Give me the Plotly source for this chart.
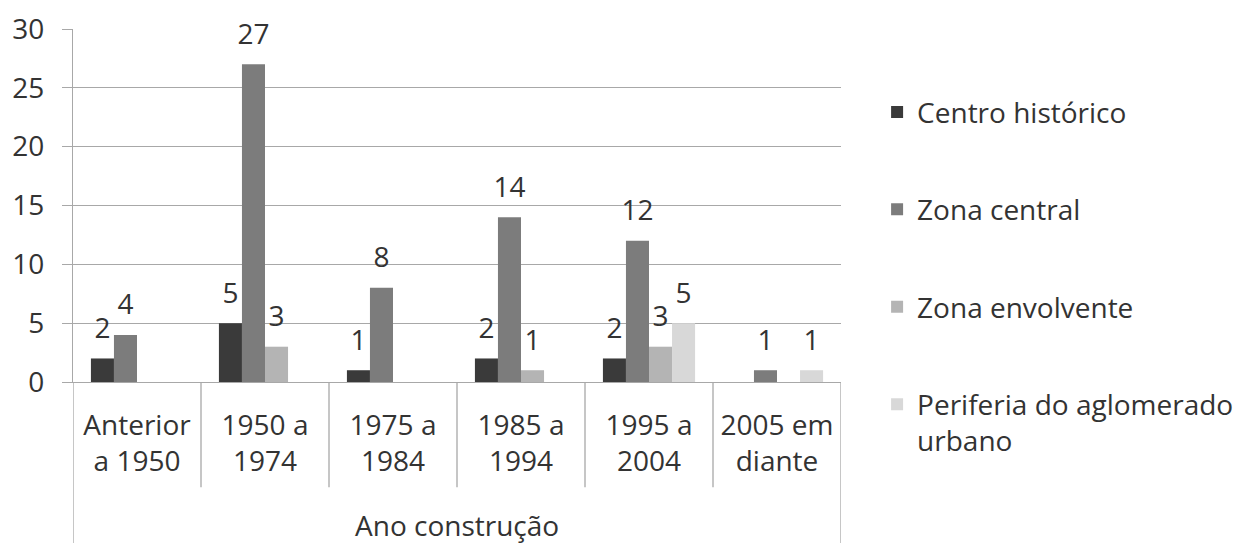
import plotly.graph_objects as go

categories = ["Anterior<br>a 1950", "1950 a<br>1974", "1975 a<br>1984", "1985 a<br>1994", "1995 a<br>2004", "2005 em<br>diante"]
series_names = ["Centro histórico", "Zona central", "Zona envolvente", "Periferia do aglomerado<br>urbano"]
centro_historico = [2, 5, 1, 2, 2, 0]
zona_central = [4, 27, 8, 14, 12, 1]
zona_envolvente = [0, 3, 0, 1, 3, 0]
periferia = [0, 0, 0, 0, 5, 1]
y_ticks = [0, 5, 10, 15, 20, 25, 30]
x_title = "Ano construção"

series_values = [centro_historico, zona_central, zona_envolvente, periferia]
colors = ["#3a3a3a", "#7c7c7c", "#b4b4b4", "#d8d8d8"]
FONT = "Open Sans"
FS = 28
txt_color = "#333333"
grid = "#a8a8a8"
GAP = 0.28

fig = go.Figure()
for name, vals, col in zip(series_names, series_values, colors):
    fig.add_trace(go.Bar(x=categories, y=vals, name=name, marker_color=col,
                         marker_line_width=0, legendgroup=name))
for name, vals in zip(series_names, series_values):
    fig.add_trace(go.Scatter(
        x=categories, y=[v if v else None for v in vals],
        text=[str(v) if v else "" for v in vals],
        mode="markers+text", textposition="top center",
        marker=dict(size=20, opacity=0), textfont=dict(family=FONT, size=FS, color=txt_color),
        showlegend=False, hoverinfo="skip", cliponaxis=False))

n = len(categories)
shapes = []
for i in range(n + 1):
    outer = i in (0, n)
    shapes.append(dict(type="line", xref="x", yref="paper", x0=i - 0.5, x1=i - 0.5,
                       y0=0, y1=-0.47 if outer else -0.298,
                       line=dict(color=grid, width=1.3)))

fig.update_layout(
    width=1234, height=535,
    margin=dict(l=65, r=401, t=21, b=161, autoexpand=False),
    paper_bgcolor="white", plot_bgcolor="white",
    barmode="group", bargap=GAP, bargroupgap=0,
    scattermode="group", scattergap=GAP,
    font=dict(family=FONT, size=FS, color=txt_color),
    shapes=shapes,
    showlegend=True,
    legend=dict(x=1.047, xanchor="left", y=0.835, yanchor="top", maxheight=480,
                valign="top",
                font=dict(family=FONT, size=FS, color=txt_color),
                tracegroupgap=58, bgcolor="rgba(0,0,0,0)"),
    annotations=[dict(text=x_title, xref="paper", yref="paper", x=0.5, y=-0.405,
                      showarrow=False, yanchor="middle",
                      font=dict(family=FONT, size=FS, color=txt_color))],
)
fig.update_xaxes(type="category", showline=True, linecolor=grid, linewidth=1.3,
                 ticks="", showgrid=False, tickfont=dict(family=FONT, size=FS, color=txt_color),
                 ticklabelstandoff=18, range=[-0.5, n - 0.5])
fig.update_yaxes(range=[0, 30], tickvals=y_ticks, showgrid=True, gridcolor=grid, gridwidth=1.3,
                 showline=True, linecolor=grid, linewidth=1.3, ticks="outside", ticklen=10,
                 tickcolor=grid, tickwidth=1.3, ticklabelstandoff=12, zeroline=False,
                 tickfont=dict(family=FONT, size=FS, color=txt_color))

fig.write_html("out.html")
